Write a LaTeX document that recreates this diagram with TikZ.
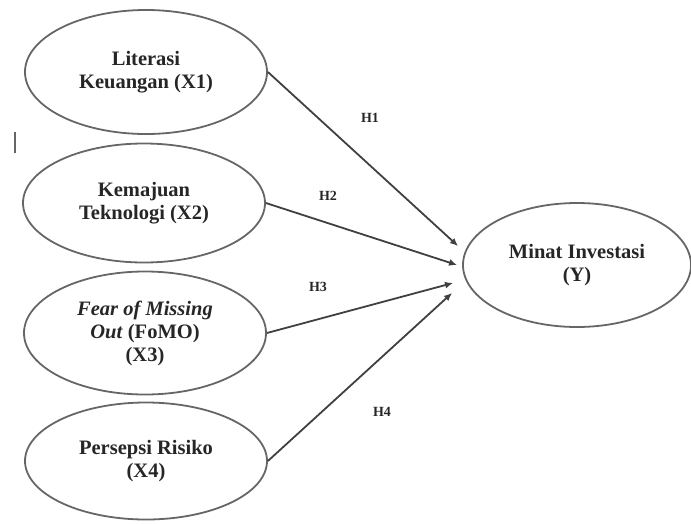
\documentclass[tikz,border=0pt]{standalone}
\usepackage{fontspec}
\setmainfont{Liberation Serif}
\usetikzlibrary{shapes.geometric, arrows.meta}
\tikzstyle{var} = [ellipse, draw=black!60, line width=1.8pt, minimum width=242pt, minimum height=124pt, inner sep=0pt, align=center, text=black!85, font=\fontsize{20.5}{23}\selectfont\bfseries]
\tikzstyle{arrow} = [line width=1.8pt, draw=black!75, -{Latex[length=8pt,width=7pt]}]
\tikzstyle{hyp} = [text=black!85, font=\fontsize{14}{16}\selectfont\bfseries]

\begin{document}
\begin{tikzpicture}[x=1pt,y=-1pt]
\useasboundingbox (0,0) rectangle (691,523);
\node[var] (x1) at (146,72) {Literasi\\Keuangan (X1)};
\node[var, minimum height=119pt] (x2) at (144,203) {Kemajuan\\Teknologi (X2)};
\node[var, minimum height=123pt] (x3) at (145,333) {\textit{Fear of Missing}\\\textit{Out} (FoMO)\\(X3)};
\node[var, minimum height=117pt] (x4) at (146,461) {Persepsi Risiko\\(X4)};
\node[var, minimum width=228pt] (y) at (577,265) {Minat Investasi\\(Y)};
\coordinate (a1) at (458,246);
\coordinate (a2) at (457,265);
\coordinate (a3) at (453,283);
\coordinate (a4) at (452,293);
\draw[arrow] (x1.east) -- (a1);
\draw[arrow] (x2.east) -- (a2);
\draw[arrow] (x3.east) -- (a3);
\draw[arrow] (x4.east) -- (a4);
\node[hyp] (h1) at (370,118) {H1};
\node[hyp] (h2) at (328,196) {H2};
\node[hyp] (h3) at (318,287) {H3};
\node[hyp] (h4) at (382,412) {H4};
\draw[black!60, line width=1.2pt] (15,132) -- (15,153);
\end{tikzpicture}
\end{document}
